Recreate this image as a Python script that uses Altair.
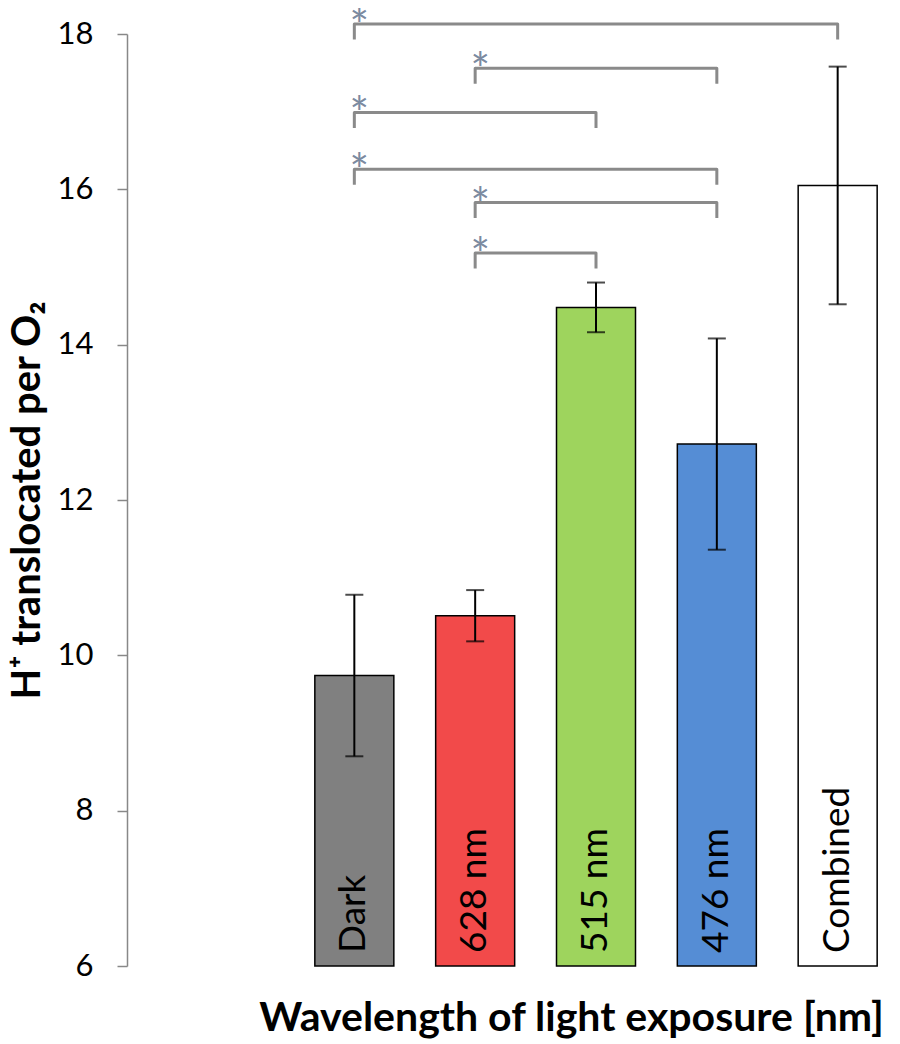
import altair as alt
import pandas as pd

# ---- data ----
categories = ["Dark", "628 nm", "515 nm", "476 nm", "Combined"]
values = [9.74, 10.51, 14.48, 12.72, 16.05]
errors = [1.04, 0.33, 0.32, 1.36, 1.53]
bar_colors = ["#808080", "#F24A4A", "#9ED45D", "#558DD5", "#FFFFFF"]

# significance brackets (index of first / second category, bracket level)
bracket_from = [0, 1, 0, 0, 1, 1]
bracket_to = [4, 3, 2, 3, 3, 2]
bracket_level = [18.13, 17.56, 16.99, 16.26, 15.83, 15.18]
bracket_drop = 0.2

y_ticks = [6, 8, 10, 12, 14, 16, 18]

# ---- tables ----
idx = list(range(len(categories)))
bars = pd.DataFrame({
    "idx": idx,
    "cat": categories,
    "value": values,
    "lo": [v - e for v, e in zip(values, errors)],
    "hi": [v + e for v, e in zip(values, errors)],
    "base": [6] * len(values),
})

pts = []
for b, (f, t, lv) in enumerate(zip(bracket_from, bracket_to, bracket_level)):
    for o, (xx, yy) in enumerate([(f, lv - bracket_drop), (f, lv), (t, lv), (t, lv - bracket_drop)]):
        pts.append({"b": b, "o": o, "idx": xx, "value": yy})
brk = pd.DataFrame(pts)
stars = pd.DataFrame({"idx": bracket_from, "value": bracket_level, "s": ["*"] * len(bracket_from)})

xs = alt.Scale(domain=[-1.84, 4.40], nice=False, zero=False)
ys = alt.Scale(domain=[6, 18], nice=False, zero=False)

x_axis = alt.Axis(title="Wavelength of light exposure [nm]", labels=False, ticks=False,
                  domain=False, grid=False,
                  titleFont="Lato", titleFontSize=41, titleFontWeight="bold",
                  titleColor="#000000", titleX=444, titleY=64,
                  titleAlign="center", titleBaseline="alphabetic")
y_axis = alt.Axis(values=y_ticks, format="d", title="H⁺ translocated per O₂",
                  grid=False, domainColor="#888888", domainWidth=1.5,
                  tickColor="#888888", tickWidth=1.5, tickSize=10,
                  labelFont="Lato", labelFontSize=31, labelColor="#000000",
                  labelPadding=24,
                  titleFont="Lato", titleFontSize=40, titleFontWeight="bold",
                  titleColor="#000000", titleAngle=270, titleX=-88, titleY=466,
                  titleAlign="center", titleBaseline="alphabetic")

X = alt.X("idx:Q", scale=xs, axis=x_axis)


def Y(field):
    return alt.Y(field, scale=ys, axis=y_axis)


bar = alt.Chart(bars).mark_bar(size=79, stroke="#000000", strokeWidth=1.5).encode(
    x=X,
    y=Y("value:Q"),
    y2="base:Q",
    color=alt.Color("cat:N", scale=alt.Scale(domain=categories, range=bar_colors), legend=None),
)

labels = alt.Chart(bars).mark_text(angle=270, align="left", baseline="alphabetic",
                                   dx=13, dy=11, font="Lato", fontSize=37, color="#000000").encode(
    x=X,
    y=Y("base:Q"),
    text="cat:N",
)

err = alt.Chart(bars).mark_rule(color="#000000", strokeWidth=2).encode(
    x=X,
    y=Y("lo:Q"),
    y2="hi:Q",
)
cap_lo = alt.Chart(bars).mark_tick(color="#000000", thickness=2, size=18, orient="horizontal").encode(
    x=X,
    y=Y("lo:Q"),
)
cap_hi = alt.Chart(bars).mark_tick(color="#000000", thickness=2, size=18, orient="horizontal").encode(
    x=X,
    y=Y("hi:Q"),
)

brackets = alt.Chart(brk).mark_line(color="#8A8A8A", strokeWidth=3, strokeJoin="round").encode(
    x=X,
    y=Y("value:Q"),
    detail="b:N",
    order="o:Q",
)

star_txt = alt.Chart(stars).mark_text(font="Lato", fontSize=46, color="#7B8AA0",
                                      baseline="alphabetic", dx=5, dy=18).encode(
    x=X,
    y=Y("value:Q"),
    text="s:N",
)

chart = alt.layer(bar, labels, err, cap_lo, cap_hi, brackets, star_txt).properties(
    width=764, height=932,
    autosize=alt.AutoSizeParams(type="none"),
    padding={"left": 119, "top": 26, "right": 0, "bottom": 76},
).configure(background="#FFFFFF").configure_view(stroke=None)

chart.save("out.html", embed_options={"renderer": "svg", "actions": False})
